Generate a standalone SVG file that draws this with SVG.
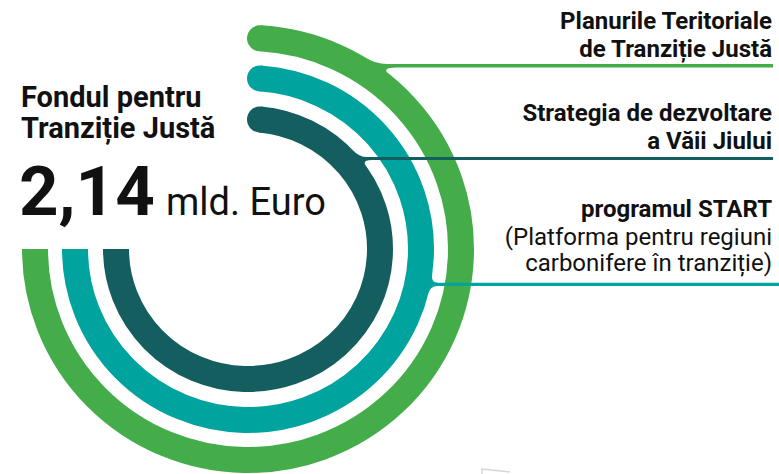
<svg xmlns="http://www.w3.org/2000/svg" width="779" height="474" viewBox="0 0 779 474">
<defs>
<style>
.arc{fill:none;stroke-width:26;stroke-linecap:butt}
.g{stroke:#44AD4A}.gf{fill:#44AD4A}
.t{stroke:#00A39D}.tf{fill:#00A39D}
.d{stroke:#155E60}.df{fill:#155E60}
.lbl{font-family:Roboto,"Liberation Sans",sans-serif;fill:#111;font-size:24px}
.b{font-weight:bold}
.r{text-anchor:end}
</style>
</defs>
<rect width="779" height="474" fill="#fff"/>
<g id="arc-green">
<path class="arc g" d="M35,249 A213 211 0 1 0 260,38.34"/>
<circle class="gf" cx="260" cy="38.34" r="13"/>
</g>
<g id="arc-teal">
<path class="arc t" d="M75,249 A173 171 0 1 0 260,78.4"/>
<circle class="tf" cx="260" cy="78.4" r="13"/>
</g>
<g id="arc-dark">
<path class="arc d" d="M116,249 A132 130 0 1 0 260,119.5"/>
<circle class="df" cx="260" cy="119.5" r="13"/>
</g>
<g id="connectors">
<path class="gf" d="M364,57 Q375.5,64 387,64 L773,64 L773,67.5 L397,67.5 Q381.5,67.5 388,73.5 L376,66 Z"/>
<path class="df" d="M352,149.4 Q359,157 367,157 L773,157 L773,160 L372,160 Q361.5,160 366,166 L357,158 Z"/>
<path class="tf" d="M432.1,275 Q430.9,282.7 438,282.7 L779,282.7 L779,286 L438,286 Q430.2,286 428.6,293 L424,284 Z"/>
</g>
<g id="fund">
<text class="lbl b" x="21" y="107" style="font-size:29px">Fondul pentru</text>
<text class="lbl b" x="21" y="138" style="font-size:29px">Tranziție Justă</text>
<text class="lbl b" x="19" y="215" style="font-size:69px">2,14</text>
<text class="lbl" x="166" y="215" style="font-size:38px">mld. Euro</text>
</g>
<g id="label-ptt">
<text class="lbl b r" x="772" y="29">Planurile Teritoriale</text>
<text class="lbl b r" x="772" y="57">de Tranziție Justă</text>
</g>
<g id="label-strategia">
<text class="lbl b r" x="772" y="121">Strategia de dezvoltare</text>
<text class="lbl b r" x="772" y="149">a Văii Jiului</text>
</g>
<g id="label-start">
<text class="lbl b r" x="772" y="217">programul START</text>
<text class="lbl r" x="772" y="245">(Platforma pentru regiuni</text>
<text class="lbl r" x="772" y="271">carbonifere în tranziție)</text>
</g>
<path d="M482,474 L482,469 L510,472" fill="none" stroke="#d6d6d6" stroke-width="1.5"/>
</svg>
